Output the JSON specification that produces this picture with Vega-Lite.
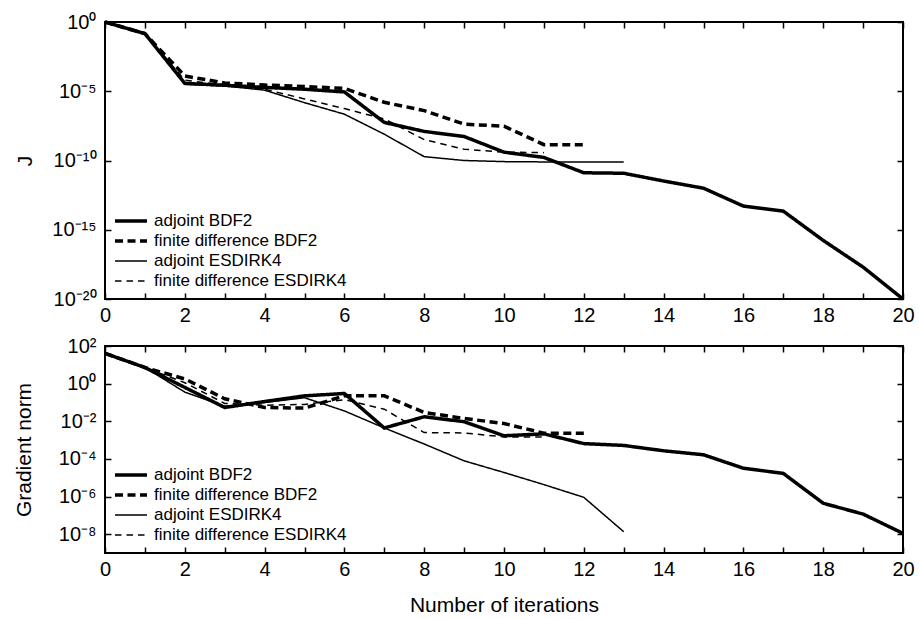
{
  "$schema": "https://vega.github.io/schema/vega-lite/v6.json",
  "background": "white",
  "padding": {"left": 12, "top": 11, "right": 3, "bottom": 5},
  "resolve": {"legend": {"strokeDash": "independent", "strokeWidth": "independent"}},
  "config": {
    "font": "Liberation Sans",
    "view": {"stroke": "black", "strokeWidth": 2},
    "mark": {"color": "black"},
    "axis": {
      "grid": false,
      "domain": false,
      "ticks": true,
      "zindex": 1,
      "offset": -6,
      "tickColor": "black",
      "tickOpacity": 1,
      "tickWidth": 1.5,
      "tickSize": 6,
      "labelFont": "Liberation Sans",
      "labelFontSize": 20,
      "labelColor": "black",
      "labelFlush": false,
      "labelOverlap": false,
      "labelBound": false,
      "titleFont": "Liberation Sans",
      "titleFontSize": 21,
      "titleFontWeight": "normal",
      "titleColor": "black"
    },
    "legend": {
      "orient": "bottom-left",
      "offset": 8,
      "padding": 0,
      "symbolType": "stroke",
      "symbolSize": 1024,
      "symbolStrokeColor": "black",
      "labelFont": "Liberation Sans",
      "labelFontSize": 17,
      "labelColor": "black",
      "labelOffset": 5,
      "labelLimit": 400,
      "clipHeight": 20,
      "rowPadding": 0
    },
    "concat": {"spacing": 9}
  },
  "datasets": {
    "J": [
      {"iter": 0, "series": "adjoint BDF2", "value": 1},
      {"iter": 1, "series": "adjoint BDF2", "value": 0.145},
      {"iter": 2, "series": "adjoint BDF2", "value": 3.7e-5},
      {"iter": 3, "series": "adjoint BDF2", "value": 2.7e-5},
      {"iter": 4, "series": "adjoint BDF2", "value": 1.9e-5},
      {"iter": 5, "series": "adjoint BDF2", "value": 1.4e-5},
      {"iter": 6, "series": "adjoint BDF2", "value": 8.9e-6},
      {"iter": 7, "series": "adjoint BDF2", "value": 5.6e-8},
      {"iter": 8, "series": "adjoint BDF2", "value": 1.26e-8},
      {"iter": 9, "series": "adjoint BDF2", "value": 5.4e-9},
      {"iter": 10, "series": "adjoint BDF2", "value": 4.0e-10},
      {"iter": 11, "series": "adjoint BDF2", "value": 1.66e-10},
      {"iter": 12, "series": "adjoint BDF2", "value": 1.3e-11},
      {"iter": 13, "series": "adjoint BDF2", "value": 1.2e-11},
      {"iter": 14, "series": "adjoint BDF2", "value": 3.3e-12},
      {"iter": 15, "series": "adjoint BDF2", "value": 1.0e-12},
      {"iter": 16, "series": "adjoint BDF2", "value": 5.1e-14},
      {"iter": 17, "series": "adjoint BDF2", "value": 2.2e-14},
      {"iter": 18, "series": "adjoint BDF2", "value": 1.7e-16},
      {"iter": 19, "series": "adjoint BDF2", "value": 2.0e-18},
      {"iter": 20, "series": "adjoint BDF2", "value": 1e-20},
      {"iter": 0, "series": "finite difference BDF2", "value": 1},
      {"iter": 1, "series": "finite difference BDF2", "value": 0.145},
      {"iter": 2, "series": "finite difference BDF2", "value": 1.26e-4},
      {"iter": 3, "series": "finite difference BDF2", "value": 4.0e-5},
      {"iter": 4, "series": "finite difference BDF2", "value": 2.8e-5},
      {"iter": 5, "series": "finite difference BDF2", "value": 2.2e-5},
      {"iter": 6, "series": "finite difference BDF2", "value": 1.6e-5},
      {"iter": 7, "series": "finite difference BDF2", "value": 1.6e-6},
      {"iter": 8, "series": "finite difference BDF2", "value": 4.0e-7},
      {"iter": 9, "series": "finite difference BDF2", "value": 4.2e-8},
      {"iter": 10, "series": "finite difference BDF2", "value": 3.0e-8},
      {"iter": 11, "series": "finite difference BDF2", "value": 1.4e-9},
      {"iter": 12, "series": "finite difference BDF2", "value": 1.4e-9},
      {"iter": 0, "series": "adjoint ESDIRK4", "value": 1},
      {"iter": 1, "series": "adjoint ESDIRK4", "value": 0.145},
      {"iter": 2, "series": "adjoint ESDIRK4", "value": 3.2e-5},
      {"iter": 3, "series": "adjoint ESDIRK4", "value": 2.4e-5},
      {"iter": 4, "series": "adjoint ESDIRK4", "value": 1.2e-5},
      {"iter": 5, "series": "adjoint ESDIRK4", "value": 1.5e-6},
      {"iter": 6, "series": "adjoint ESDIRK4", "value": 2.2e-7},
      {"iter": 7, "series": "adjoint ESDIRK4", "value": 7.9e-9},
      {"iter": 8, "series": "adjoint ESDIRK4", "value": 1.9e-10},
      {"iter": 9, "series": "adjoint ESDIRK4", "value": 1.0e-10},
      {"iter": 10, "series": "adjoint ESDIRK4", "value": 8.3e-11},
      {"iter": 11, "series": "adjoint ESDIRK4", "value": 7.9e-11},
      {"iter": 12, "series": "adjoint ESDIRK4", "value": 7.9e-11},
      {"iter": 13, "series": "adjoint ESDIRK4", "value": 7.9e-11},
      {"iter": 0, "series": "finite difference ESDIRK4", "value": 1},
      {"iter": 1, "series": "finite difference ESDIRK4", "value": 0.145},
      {"iter": 2, "series": "finite difference ESDIRK4", "value": 6.3e-5},
      {"iter": 3, "series": "finite difference ESDIRK4", "value": 2.8e-5},
      {"iter": 4, "series": "finite difference ESDIRK4", "value": 1.4e-5},
      {"iter": 5, "series": "finite difference ESDIRK4", "value": 2.8e-6},
      {"iter": 6, "series": "finite difference ESDIRK4", "value": 5.6e-7},
      {"iter": 7, "series": "finite difference ESDIRK4", "value": 1.0e-7},
      {"iter": 8, "series": "finite difference ESDIRK4", "value": 3.2e-9},
      {"iter": 9, "series": "finite difference ESDIRK4", "value": 6.5e-10},
      {"iter": 10, "series": "finite difference ESDIRK4", "value": 4.0e-10},
      {"iter": 11, "series": "finite difference ESDIRK4", "value": 3.7e-10}
    ],
    "G": [
      {"iter": 0, "series": "adjoint BDF2", "value": 40.7},
      {"iter": 1, "series": "adjoint BDF2", "value": 7.2},
      {"iter": 2, "series": "adjoint BDF2", "value": 0.63},
      {"iter": 3, "series": "adjoint BDF2", "value": 0.054},
      {"iter": 4, "series": "adjoint BDF2", "value": 0.112},
      {"iter": 5, "series": "adjoint BDF2", "value": 0.224},
      {"iter": 6, "series": "adjoint BDF2", "value": 0.30},
      {"iter": 7, "series": "adjoint BDF2", "value": 0.0044},
      {"iter": 8, "series": "adjoint BDF2", "value": 0.0174},
      {"iter": 9, "series": "adjoint BDF2", "value": 0.0095},
      {"iter": 10, "series": "adjoint BDF2", "value": 0.0017},
      {"iter": 11, "series": "adjoint BDF2", "value": 0.00214},
      {"iter": 12, "series": "adjoint BDF2", "value": 6.5e-4},
      {"iter": 13, "series": "adjoint BDF2", "value": 5.2e-4},
      {"iter": 14, "series": "adjoint BDF2", "value": 2.7e-4},
      {"iter": 15, "series": "adjoint BDF2", "value": 1.66e-4},
      {"iter": 16, "series": "adjoint BDF2", "value": 3.2e-5},
      {"iter": 17, "series": "adjoint BDF2", "value": 1.7e-5},
      {"iter": 18, "series": "adjoint BDF2", "value": 4.4e-7},
      {"iter": 19, "series": "adjoint BDF2", "value": 1.17e-7},
      {"iter": 20, "series": "adjoint BDF2", "value": 1.1e-8},
      {"iter": 0, "series": "finite difference BDF2", "value": 40.7},
      {"iter": 1, "series": "finite difference BDF2", "value": 7.2},
      {"iter": 2, "series": "finite difference BDF2", "value": 1.78},
      {"iter": 3, "series": "finite difference BDF2", "value": 0.158},
      {"iter": 4, "series": "finite difference BDF2", "value": 0.054},
      {"iter": 5, "series": "finite difference BDF2", "value": 0.05},
      {"iter": 6, "series": "finite difference BDF2", "value": 0.224},
      {"iter": 7, "series": "finite difference BDF2", "value": 0.224},
      {"iter": 8, "series": "finite difference BDF2", "value": 0.0295},
      {"iter": 9, "series": "finite difference BDF2", "value": 0.0141},
      {"iter": 10, "series": "finite difference BDF2", "value": 0.0076},
      {"iter": 11, "series": "finite difference BDF2", "value": 0.00234},
      {"iter": 12, "series": "finite difference BDF2", "value": 0.00234},
      {"iter": 0, "series": "adjoint ESDIRK4", "value": 40.7},
      {"iter": 1, "series": "adjoint ESDIRK4", "value": 7.2},
      {"iter": 2, "series": "adjoint ESDIRK4", "value": 0.355},
      {"iter": 3, "series": "adjoint ESDIRK4", "value": 0.063},
      {"iter": 4, "series": "adjoint ESDIRK4", "value": 0.1},
      {"iter": 5, "series": "adjoint ESDIRK4", "value": 0.178},
      {"iter": 6, "series": "adjoint ESDIRK4", "value": 0.0355},
      {"iter": 7, "series": "adjoint ESDIRK4", "value": 0.0044},
      {"iter": 8, "series": "adjoint ESDIRK4", "value": 6.2e-4},
      {"iter": 9, "series": "adjoint ESDIRK4", "value": 7.9e-5},
      {"iter": 10, "series": "adjoint ESDIRK4", "value": 1.9e-5},
      {"iter": 11, "series": "adjoint ESDIRK4", "value": 4.3e-6},
      {"iter": 12, "series": "adjoint ESDIRK4", "value": 9.1e-7},
      {"iter": 13, "series": "adjoint ESDIRK4", "value": 1.35e-8},
      {"iter": 0, "series": "finite difference ESDIRK4", "value": 40.7},
      {"iter": 1, "series": "finite difference ESDIRK4", "value": 7.2},
      {"iter": 2, "series": "finite difference ESDIRK4", "value": 1.12},
      {"iter": 3, "series": "finite difference ESDIRK4", "value": 0.089},
      {"iter": 4, "series": "finite difference ESDIRK4", "value": 0.071},
      {"iter": 5, "series": "finite difference ESDIRK4", "value": 0.079},
      {"iter": 6, "series": "finite difference ESDIRK4", "value": 0.141},
      {"iter": 7, "series": "finite difference ESDIRK4", "value": 0.0437},
      {"iter": 8, "series": "finite difference ESDIRK4", "value": 0.0025},
      {"iter": 9, "series": "finite difference ESDIRK4", "value": 0.0024},
      {"iter": 10, "series": "finite difference ESDIRK4", "value": 0.00148},
      {"iter": 11, "series": "finite difference ESDIRK4", "value": 0.00148}
    ]
  },
  "vconcat": [
    {
      "width": 798,
      "height": 277,
      "data": {"name": "J"},
      "layer": [
        {
          "mark": {"type": "line", "clip": false},
          "encoding": {
            "x": {
              "field": "iter", "type": "quantitative",
              "scale": {"domain": [0, 20], "nice": false, "zero": false},
              "axis": {"orient": "bottom", "title": null, "ticks": true, "tickSize": 6, "values": [0,1,2,3,4,5,6,7,8,9,10,11,12,13,14,15,16,17,18,19,20], "labelExpr": "datum.value % 2 === 0 ? datum.label : ''", "labelPadding": 6}
            },
            "y": {
              "field": "value", "type": "quantitative",
              "scale": {"type": "log", "domain": [1e-20, 1], "nice": false},
              "axis": {"orient": "left", "title": "J", "titlePadding": 16, "ticks": true, "tickSize": 6, "values": [1e-20, 1e-15, 1e-10, 1e-5, 1], "labelPadding": 9,
                "labelExpr": "'10' + replace(replace(replace(replace(replace(replace(replace(replace(replace('' + round(log(datum.value)/LN10), '-', '⁻'), '0', '⁰'), '1', '¹'), '2', '²'), '4', '⁴'), '5', '⁵'), '6', '⁶'), '8', '⁸'), '9', '⁹')"}
            },
            "strokeDash": {
              "field": "series", "type": "nominal",
              "scale": {"domain": ["adjoint BDF2", "finite difference BDF2", "adjoint ESDIRK4", "finite difference ESDIRK4"], "range": [[1, 0], [8, 4.5], [1, 0], [6.5, 5]]},
              "legend": {"title": null, "orient": "bottom-left"}
            },
            "strokeWidth": {
              "field": "series", "type": "nominal",
              "scale": {"type": "ordinal", "domain": ["adjoint BDF2", "finite difference BDF2", "adjoint ESDIRK4", "finite difference ESDIRK4"], "range": [3.5, 3.5, 1.5, 1.5]},
              "legend": {"title": null, "orient": "bottom-left"}
            }
          }
        },
        {
          "mark": {"type": "point", "opacity": 0},
          "encoding": {
            "x": {
              "field": "iter", "type": "quantitative",
              "scale": {"domain": [0, 20], "nice": false, "zero": false},
              "axis": {"orient": "top", "title": null, "labels": false, "ticks": true, "tickSize": 6, "values": [0,1,2,3,4,5,6,7,8,9,10,11,12,13,14,15,16,17,18,19,20]}
            },
            "y": {
              "field": "value", "type": "quantitative",
              "scale": {"type": "log", "domain": [1e-20, 1], "nice": false},
              "axis": {"orient": "right", "title": null, "labels": false, "ticks": true, "tickSize": 6, "values": [1e-20, 1e-15, 1e-10, 1e-5, 1]}
            }
          }
        }
      ]
    },
    {
      "width": 798,
      "height": 207,
      "data": {"name": "G"},
      "layer": [
        {
          "mark": {"type": "line", "clip": false},
          "encoding": {
            "x": {
              "field": "iter", "type": "quantitative",
              "scale": {"domain": [0, 20], "nice": false, "zero": false},
              "axis": {"orient": "bottom", "title": "Number of iterations", "titlePadding": 15, "ticks": true, "tickSize": 6, "values": [0,1,2,3,4,5,6,7,8,9,10,11,12,13,14,15,16,17,18,19,20], "labelExpr": "datum.value % 2 === 0 ? datum.label : ''", "labelPadding": 6}
            },
            "y": {
              "field": "value", "type": "quantitative",
              "scale": {"type": "log", "domain": [1e-9, 100], "nice": false},
              "axis": {"orient": "left", "title": "Gradient norm", "titlePadding": 24, "ticks": true, "tickSize": 6, "values": [1e-8, 1e-6, 1e-4, 1e-2, 1, 100], "labelPadding": 9,
                "labelExpr": "'10' + replace(replace(replace(replace(replace(replace(replace(replace(replace('' + round(log(datum.value)/LN10), '-', '⁻'), '0', '⁰'), '1', '¹'), '2', '²'), '4', '⁴'), '5', '⁵'), '6', '⁶'), '8', '⁸'), '9', '⁹')"}
            },
            "strokeDash": {
              "field": "series", "type": "nominal",
              "scale": {"domain": ["adjoint BDF2", "finite difference BDF2", "adjoint ESDIRK4", "finite difference ESDIRK4"], "range": [[1, 0], [8, 4.5], [1, 0], [6.5, 5]]},
              "legend": {"title": null, "orient": "bottom-left"}
            },
            "strokeWidth": {
              "field": "series", "type": "nominal",
              "scale": {"type": "ordinal", "domain": ["adjoint BDF2", "finite difference BDF2", "adjoint ESDIRK4", "finite difference ESDIRK4"], "range": [3.5, 3.5, 1.5, 1.5]},
              "legend": {"title": null, "orient": "bottom-left"}
            }
          }
        },
        {
          "mark": {"type": "point", "opacity": 0},
          "encoding": {
            "x": {
              "field": "iter", "type": "quantitative",
              "scale": {"domain": [0, 20], "nice": false, "zero": false},
              "axis": {"orient": "top", "title": null, "labels": false, "ticks": true, "tickSize": 6, "values": [0,1,2,3,4,5,6,7,8,9,10,11,12,13,14,15,16,17,18,19,20]}
            },
            "y": {
              "field": "value", "type": "quantitative",
              "scale": {"type": "log", "domain": [1e-9, 100], "nice": false},
              "axis": {"orient": "right", "title": null, "labels": false, "ticks": true, "tickSize": 6, "values": [1e-8, 1e-6, 1e-4, 1e-2, 1, 100]}
            }
          }
        }
      ]
    }
  ]
}
